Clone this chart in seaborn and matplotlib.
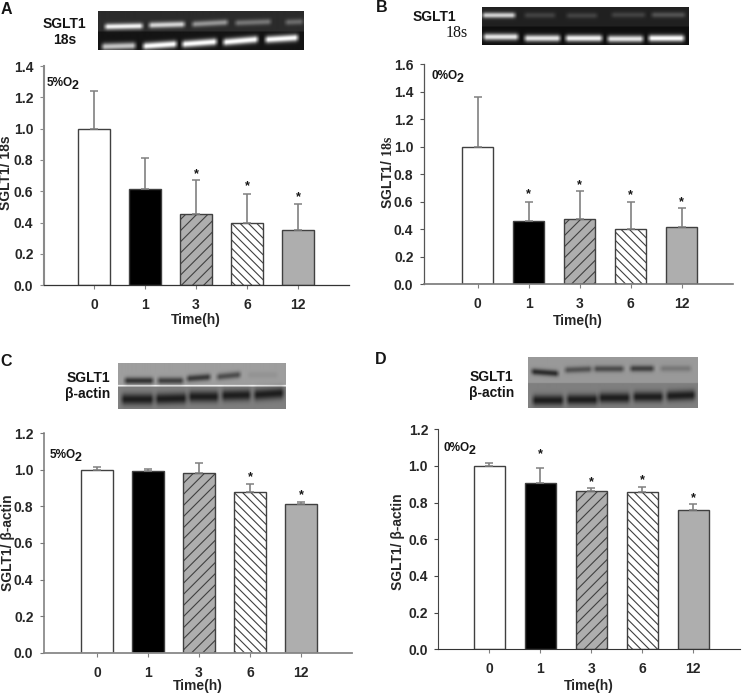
import numpy as np
import pandas as pd
import matplotlib
matplotlib.use("Agg")
import matplotlib.pyplot as plt
import seaborn as sns

W, H = 745, 694
times = ["0", "1", "3", "6", "12"]

means_a = [1.0, 0.615, 0.455, 0.40, 0.35]
tops_a = [1.24, 0.81, 0.67, 0.583, 0.52]
stars_a = [None, None, 0.736, 0.657, 0.591]

means_b = [1.0, 0.46, 0.47, 0.40, 0.415]
tops_b = [1.365, 0.60, 0.675, 0.595, 0.55]
stars_b = [None, 0.684, 0.75, 0.677, 0.629]

means_c = [1.0, 0.995, 0.985, 0.88, 0.815]
tops_c = [1.017, 1.007, 1.04, 0.92, 0.825]
stars_c = [None, None, None, 0.985, 0.887]

means_d = [1.0, 0.907, 0.865, 0.86, 0.76]
tops_d = [1.017, 0.987, 0.88, 0.885, 0.79]
stars_d = [None, 1.087, 0.933, 0.945, 0.847]

gel_a_sglt1 = [0.95, 0.80, 0.50, 0.35, 0.30]
gel_a_18s = [0.75, 1.0, 1.0, 1.0, 1.0]
gel_b_sglt1 = [0.80, 0.15, 0.15, 0.15, 0.22]
gel_b_18s = [0.90, 0.90, 0.95, 0.90, 1.0]
gel_c_sglt1 = [0.80, 0.70, 0.75, 0.60, 0.08]
gel_c_actin = [0.95, 0.95, 0.95, 0.95, 0.95]
gel_d_sglt1 = [0.85, 0.55, 0.60, 0.70, 0.25]
gel_d_actin = [0.95, 0.95, 0.95, 0.95, 0.95]

sns.set_theme(style="white")
plt.rcParams.update({
    "font.family": ["Liberation Sans", "DejaVu Sans"],
    "font.weight": "bold",
    "axes.labelweight": "bold",
    "mathtext.fontset": "custom",
    "mathtext.rm": "Liberation Serif:bold",
    "mathtext.bf": "Liberation Sans:bold",
    "mathtext.default": "regular",
    "hatch.linewidth": 0.8,
    "text.color": "#151515",
})

fig = plt.figure(figsize=(W / 100, H / 100), dpi=100, facecolor="white")
LABEL = 10.0


def px_axes(x0, y0, x1, y1):
    return fig.add_axes([x0 / W, 1 - y1 / H, (x1 - x0) / W, (y1 - y0) / H])


def fig_text(x, y, s, **kw):
    kw.setdefault("ha", "center")
    kw.setdefault("va", "center")
    kw.setdefault("fontsize", LABEL)
    fig.text(x / W, 1 - y / H, s, **kw)


palette = ["white", "black", "#aeaeae", "white", "#aeaeae"]
hatches = [None, None, "///", "\\\\\\\\", None]


def panel(rect, c0, means, tops, stars, ymax, yticks, ylabel, ylab_xy, xlab_y, note, note_xy,
          left_style, bottom_style):
    x0, y0, x1, y1 = rect
    ax = px_axes(x0, y0, x1, y1)
    df = pd.DataFrame({"time": times, "value": means})
    sns.barplot(data=df, x="time", y="value", hue="time", order=times, hue_order=times,
                palette=palette, width=0.61, saturation=1, legend=False, ax=ax, zorder=2)
    for bar, hatch in zip(ax.patches, hatches):
        bar.set_edgecolor("#404040")
        bar.set_linewidth(1.0)
        if hatch:
            bar.set_hatch(hatch)
    pos = np.arange(len(times))
    m = np.array(means)
    ax.errorbar(pos, m, yerr=[np.zeros_like(m), np.array(tops) - m], fmt="none",
                ecolor="#808080", elinewidth=1.2, capsize=2.6, capthick=1.1, zorder=3)
    for p, s in zip(pos, stars):
        if s is not None:
            ax.annotate("*", (p, s), xytext=(0, -5.2), textcoords="offset points",
                        ha="center", va="baseline", fontsize=9, zorder=4)
    ax.set_xlim((x0 - c0) / 51, (x1 - c0) / 51)
    ax.set_ylim(0, ymax)
    ax.set_yticks(yticks)
    ax.set_yticklabels([f"{t:.1f}" for t in yticks])
    sns.despine(ax=ax)
    ax.patch.set_alpha(0)
    ax.spines["left"].set_color(left_style[0])
    ax.spines["left"].set_linewidth(left_style[1])
    ax.spines["bottom"].set_color(bottom_style[0])
    ax.spines["bottom"].set_linewidth(bottom_style[1])
    ax.tick_params(axis="y", which="major", left=True, length=3, width=0.8, color=left_style[0],
                   pad=4.2, labelsize=LABEL)
    ax.tick_params(axis="x", which="major", bottom=True, length=3, width=0.8, color="#808080",
                   pad=6.5, labelsize=LABEL)
    ax.set_xlabel("Time(h)", fontsize=LABEL, va="center")
    ax.xaxis.set_label_coords(0.5, -(xlab_y - y1) / (y1 - y0))
    ax.set_ylabel(ylabel, fontsize=LABEL, va="center")
    ax.yaxis.set_label_coords((ylab_xy[0] - x0) / (x1 - x0), (y1 - ylab_xy[1]) / (y1 - y0))
    fig_text(note_xy[0], note_xy[1], note, ha="left", fontsize=8.5)
    fig_text(note_xy[0] + 25, note_xy[1] + 3, "2", ha="left", fontsize=9)
    return ax


def gel(rect, splits, backgrounds, rows, target, sigmas):
    """Render a blot as an image: rows = [(intensities, lane geometry)]."""
    x0, y0, x1, y1 = rect
    ax = px_axes(x0, y0, x1, y1)
    xs = np.arange(x0, x1, 0.5)
    ys = np.arange(y0, y1, 0.5)
    X, Y = np.meshgrid(xs, ys)
    img = np.zeros_like(X)
    edges = [y0] + splits + [y1]
    for i, bg in enumerate(backgrounds):
        img[(Y >= edges[i]) & (Y < edges[i + 1])] = bg
    for (vals, lanes), sig in zip(rows, sigmas):
        for v, (a, b, ya, yb) in zip(vals, lanes):
            yc = ya + (yb - ya) * (X - a) / (b - a)
            across = np.exp(-((Y - yc) / sig) ** 2)
            along = np.clip((X - a + 2.5) / 5, 0, 1) * np.clip((b - X + 2.5) / 5, 0, 1)
            p = v * across * along
            img = img * (1 - p) + target * p
    ax.imshow(img, cmap="gray", vmin=0, vmax=1, aspect="auto", extent=(x0, x1, y1, y0),
              interpolation="bilinear")
    ax.axis("off")


# Panel A
gel((98, 11.3, 303.3, 50), [31.5], [0.17, 0.08],
    [(gel_a_sglt1, [(105, 142, 26.7, 26), (149, 184, 25.3, 24.3), (192, 227, 24.3, 22.3),
                    (235, 270, 23, 21.7), (285, 302, 22.3, 21.7)]),
     (gel_a_18s, [(102, 135, 46.7, 45.7), (143, 176, 46.3, 44), (182, 216, 44.3, 41.7),
                  (223, 257, 42.3, 39.3), (265, 297, 39.7, 37.7)])],
    1.0, [3.0, 3.5])
# Panel B
gel((482.3, 6.7, 689.3, 45.3), [27], [0.13, 0.06],
    [(gel_b_sglt1, [(483, 515, 15.7, 15.7), (525, 555, 15.7, 15.7), (567, 597, 16, 16),
                    (612, 645, 15.3, 15.3), (652, 685, 15.3, 15.3)]),
     (gel_b_18s, [(484, 518, 37.3, 37.3), (525, 560, 38.7, 38.7), (566, 602, 38.7, 38.7),
                  (608, 643, 39.3, 39.3), (649, 684, 38.7, 38.7)])],
    1.0, [2.8, 3.4])
# Panel C
gel((118.3, 363.3, 285.7, 409), [385.2, 386.6], [0.62, 0.98, 0.50],
    [(gel_c_sglt1, [(125, 153, 380.7, 380.7), (158, 183, 380.7, 380.7), (187, 210, 378.7, 377),
                    (217, 240, 377, 374.7), (248, 277, 375, 375)]),
     (gel_c_actin, [(122, 153, 399.3, 399.3), (156, 186, 399, 398.3), (189, 218, 396.7, 396.7),
                    (222, 250, 395.6, 395), (254, 283, 395, 393)])],
    0.10, [3.4, 5.6])
# Panel D
gel((528.3, 356.7, 697.3, 408.3), [383.3], [0.60, 0.50],
    [(gel_d_sglt1, [(532, 558, 372, 374), (565, 591, 370.5, 369.5), (594, 623, 369.3, 369.3),
                    (630, 653, 369, 369), (660, 690, 369, 369)]),
     (gel_d_actin, [(533, 563, 400.7, 400.7), (567, 597, 400, 400), (599, 629, 398.3, 398.3),
                    (633, 662, 397.3, 397.3), (666, 694, 396.5, 395.5)])],
    0.10, [3.2, 5.2])

panel((43.5, 66, 349, 285.3), 94, means_a, tops_a, stars_a, 1.4, np.arange(0, 1.41, 0.2),
      "SGLT1/ 18s", (6, 173), 320, "5%O", (46.7, 83),
      ("#8a8a8a", 1.5), ("#333333", 0.9))
panel((423.5, 64.3, 732.7, 284), 477.7, means_b, tops_b, stars_b, 1.6, np.arange(0, 1.61, 0.2),
      r"SGLT1/ $\mathrm{18s}$", (387.3, 172.7), 321, "0%O", (431.7, 76),
      ("#555555", 0.9), ("#777777", 1.2))
panel((43.5, 433.3, 352.3, 652.7), 97, means_c, tops_c, stars_c, 1.2, np.arange(0, 1.21, 0.2),
      "SGLT1/ β-actin", (8.3, 543), 685.7, "5%O", (49.3, 455),
      ("#777777", 1.1), ("#888888", 1.3))
panel((438, 429.3, 740, 649.3), 489.3, means_d, tops_d, stars_d, 1.2, np.arange(0, 1.21, 0.2),
      "SGLT1/ β-actin", (398.3, 541.7), 685.7, "0%O", (443.3, 448),
      ("#444444", 0.8), ("#333333", 0.8))

# Panel letters
for s, x, y in [("A", 6, 9), ("B", 382, 8), ("C", 6, 361), ("D", 381, 360)]:
    fig_text(x, y, s, fontsize=11.5)

# Blot labels
fig_text(64.7, 24, "SGLT1")
fig_text(65, 40, "18s")
fig_text(434.7, 16.7, "SGLT1")
fig_text(457, 33, "18s", family="Liberation Serif", weight="normal", fontsize=11.5)
fig_text(88, 377.7, "SGLT1")
fig_text(88, 394.3, "β-actin")
fig_text(491, 376.7, "SGLT1")
fig_text(491.7, 393.3, "β-actin")

fig.savefig("out.png", dpi=100, facecolor="white")
